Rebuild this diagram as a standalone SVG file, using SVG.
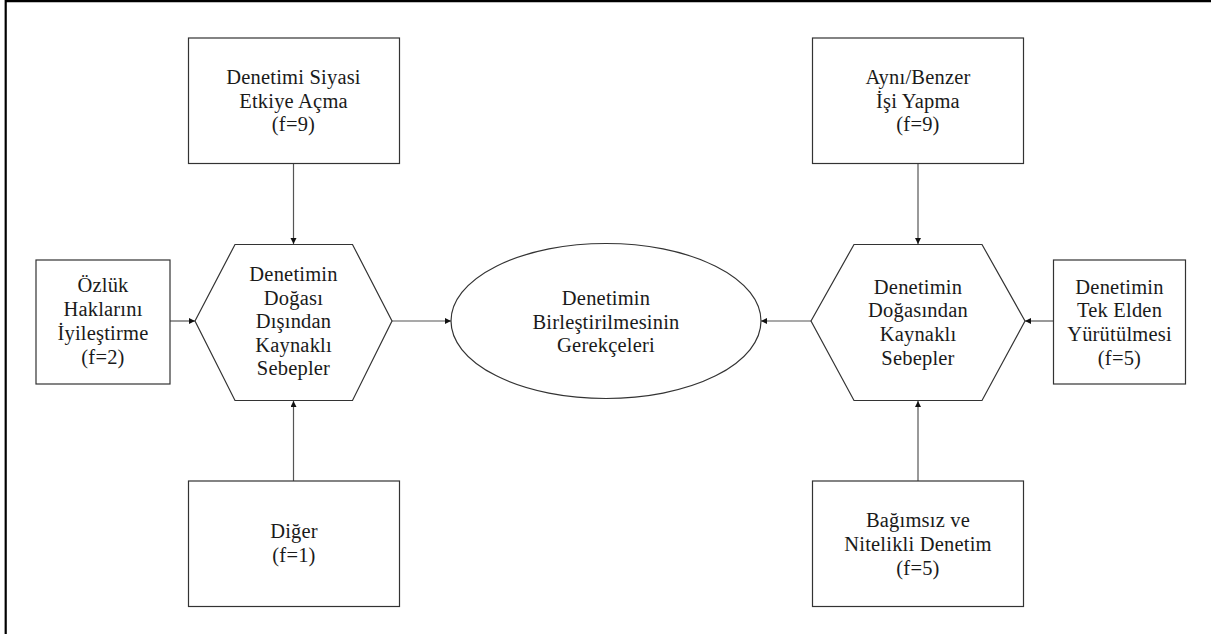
<svg xmlns="http://www.w3.org/2000/svg" width="1211" height="634" viewBox="0 0 1211 634">
<style>
.shape{fill:#fff;stroke:#333;stroke-width:1.2}
.lbl{font-family:"Liberation Serif","Times New Roman",serif;font-size:20.5px;fill:#1a1a1a;text-anchor:middle;letter-spacing:0.2px}
.conn{stroke:#555;stroke-width:1.2;fill:none;marker-end:url(#arr)}
.frame{stroke:#000;stroke-width:2.2;fill:none}
</style>
<defs>
<marker id="arr" markerWidth="7" markerHeight="7" refX="6" refY="3" orient="auto" markerUnits="userSpaceOnUse">
<path d="M0,0 L6,3 L0,6 Z" fill="#111"/>
</marker>
</defs>
<rect width="1211" height="634" fill="#fff"/>
<path class="frame" d="M5.7,634 V1.2 H1211"/>
<g id="connectors">
<line class="conn" x1="293.5" y1="163.5" x2="293.5" y2="244"/>
<line class="conn" x1="170" y1="321" x2="195" y2="321"/>
<line class="conn" x1="293.5" y1="481" x2="293.5" y2="401"/>
<line class="conn" x1="392" y1="321" x2="451" y2="321"/>
<line class="conn" x1="918" y1="163.5" x2="918" y2="244"/>
<line class="conn" x1="1053" y1="321" x2="1025" y2="321"/>
<line class="conn" x1="918" y1="481" x2="918" y2="401"/>
<line class="conn" x1="811" y1="321" x2="761" y2="321"/>
</g>
<g id="n-siyasi">
<rect class="shape" x="188.5" y="38" width="211" height="125.5"/>
<text class="lbl" x="293.5" y="84">Denetimi Siyasi</text>
<text class="lbl" x="293.5" y="107.5">Etkiye Açma</text>
<text class="lbl" x="293.5" y="131">(f=9)</text>
</g>
<g id="n-ozluk">
<rect class="shape" x="36" y="260" width="134" height="124"/>
<text class="lbl" x="103" y="292">Özlük</text>
<text class="lbl" x="103" y="316">Haklarını</text>
<text class="lbl" x="103" y="340">İyileştirme</text>
<text class="lbl" x="103" y="363.5">(f=2)</text>
</g>
<g id="n-disindan">
<polygon class="shape" points="195,321 235,244.5 352.5,244.5 392,321 352.5,400.5 235,400.5"/>
<text class="lbl" x="293.5" y="281">Denetimin</text>
<text class="lbl" x="293.5" y="304.5">Doğası</text>
<text class="lbl" x="293.5" y="328">Dışından</text>
<text class="lbl" x="293.5" y="352">Kaynaklı</text>
<text class="lbl" x="293.5" y="375">Sebepler</text>
</g>
<g id="n-diger">
<rect class="shape" x="188.5" y="481" width="211" height="125.5"/>
<text class="lbl" x="294" y="538">Diğer</text>
<text class="lbl" x="294" y="562">(f=1)</text>
</g>
<g id="n-gerekce">
<ellipse class="shape" cx="606" cy="321" rx="155" ry="77.5"/>
<text class="lbl" x="606" y="305">Denetimin</text>
<text class="lbl" x="606" y="328.5">Birleştirilmesinin</text>
<text class="lbl" x="606" y="352">Gerekçeleri</text>
</g>
<g id="n-ayni">
<rect class="shape" x="812.5" y="38" width="211" height="125.5"/>
<text class="lbl" x="918" y="84">Aynı/Benzer</text>
<text class="lbl" x="918" y="107.5">İşi Yapma</text>
<text class="lbl" x="918" y="131">(f=9)</text>
</g>
<g id="n-dogasindan">
<polygon class="shape" points="811,321 854,244.5 982,244.5 1025,321 982,400.5 854,400.5"/>
<text class="lbl" x="918" y="293.5">Denetimin</text>
<text class="lbl" x="918" y="317">Doğasından</text>
<text class="lbl" x="918" y="341">Kaynaklı</text>
<text class="lbl" x="918" y="364.5">Sebepler</text>
</g>
<g id="n-tekelden">
<rect class="shape" x="1053.5" y="260" width="132" height="124"/>
<text class="lbl" x="1119.5" y="293.5">Denetimin</text>
<text class="lbl" x="1119.5" y="317">Tek Elden</text>
<text class="lbl" x="1119.5" y="341">Yürütülmesi</text>
<text class="lbl" x="1119.5" y="364.5">(f=5)</text>
</g>
<g id="n-bagimsiz">
<rect class="shape" x="812.5" y="481" width="211" height="125.5"/>
<text class="lbl" x="918" y="527">Bağımsız ve</text>
<text class="lbl" x="918" y="551">Nitelikli Denetim</text>
<text class="lbl" x="918" y="574.5">(f=5)</text>
</g>
</svg>
